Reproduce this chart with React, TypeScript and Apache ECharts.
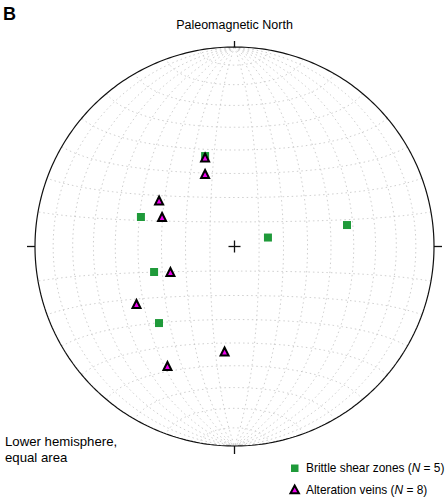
import React, { useEffect, useRef } from "react";
import * as echarts from "echarts";

// Brittle shear zones (squares): trend / plunge in degrees
const shearTrend = [342.0, 287.5, 75.0, 79.2, 252.4, 224.6];
const shearPlunge = [50.6, 49.3, 75.9, 42.1, 55.2, 45.2];
// Alteration veins (triangles): trend / plunge in degrees
const veinTrend = [341.7, 337.9, 301.4, 292.2, 248.3, 239.6, 185.4, 209.3];
const veinPlunge = [51.2, 57.8, 53.5, 57.8, 61.7, 42.5, 46.1, 31.9];

const legendLabels = ["Brittle shear zones", "Alteration veins"];
const legendCounts = [5, 8];

const netStep = 10; // degrees between net lines

const R = 199.5;
const CX = 234.5;
const CY = 246.5;
const EXT = 1.05;
const FONT = "'Liberation Sans', Arial, Helvetica, sans-serif";
const deg = Math.PI / 180;

function projectLine(trend: number, plunge: number): [number, number] {
  const r = Math.SQRT2 * Math.sin(((90 - plunge) / 2) * deg);
  return [r * Math.sin(trend * deg), r * Math.cos(trend * deg)];
}
function projVec(e: number, n: number, d: number): [number, number] {
  const k = 1 / Math.sqrt(1 + d);
  return [e * k, n * k];
}

function buildNet() {
  const curves: [number, number][][] = [];
  const N = 120;
  // meridians (great circles through N-S axis)
  for (let dip = netStep; dip < 90; dip += netStep) {
    for (const s of [1, -1]) {
      const pts: [number, number][] = [];
      for (let i = 0; i <= N; i++) {
        const t = (Math.PI * i) / N;
        const e = s * Math.sin(t) * Math.cos(dip * deg);
        const n = Math.cos(t);
        const d = Math.sin(t) * Math.sin(dip * deg);
        pts.push(projVec(e, n, d));
      }
      curves.push(pts);
    }
  }
  // parallels (small circles around N-S axis), equator omitted
  for (let a = netStep; a < 180; a += netStep) {
    if (a === 90) continue;
    const pts: [number, number][] = [];
    for (let i = 0; i <= N; i++) {
      const p = (Math.PI * i) / N;
      const e = Math.sin(a * deg) * Math.cos(p);
      const n = Math.cos(a * deg);
      const d = Math.sin(a * deg) * Math.sin(p);
      pts.push(projVec(e, n, d));
    }
    curves.push(pts);
  }
  return curves;
}

export default function App() {
  const ref = useRef<HTMLDivElement>(null);
  useEffect(() => {
    if (!ref.current) return;
    const chart = echarts.init(ref.current, null, { renderer: "svg" });

    const net = buildNet();
    const netSeries = net.map((pts) => ({
      type: "line",
      data: pts,
      showSymbol: false,
      silent: true,
      clip: false,
      z: 1,
      lineStyle: { color: "#c2c2c2", width: 0.8, type: [1.5, 3] },
    }));

    const prim: [number, number][] = [];
    for (let i = 0; i <= 360; i++) prim.push([Math.cos(i * deg), Math.sin(i * deg)]);

    const tk = 8 / R;
    const tickSegs: [number, number][][] = [
      [[0, 1], [0, 1 + 6 / R]],
      [[0, -1], [0, -1 - tk]],
      [[1, 0], [1 + tk, 0]],
      [[-1, 0], [-1 - tk, 0]],
      [[-6 / R, 0], [6 / R, 0]],
      [[0, -6 / R], [0, 6 / R]],
    ];
    const blackSeries = [prim, ...tickSegs].map((pts, i) => ({
      type: "line",
      data: pts,
      showSymbol: false,
      silent: true,
      clip: false,
      z: 2,
      lineStyle: { color: "#111", width: i === 0 ? 1.2 : 1.3 },
    }));

    const shearData = shearTrend.map((t, i) => projectLine(t, shearPlunge[i]));
    const veinData = veinTrend.map((t, i) => projectLine(t, veinPlunge[i]));

    const size = 2 * EXT * R;
    chart.setOption({
      animation: false,
      grid: {
        left: CX - EXT * R,
        top: CY - EXT * R,
        width: size,
        height: size,
        outerBoundsMode: "none",
        containLabel: false,
      },
      xAxis: { type: "value", min: -EXT, max: EXT, show: false },
      yAxis: { type: "value", min: -EXT, max: EXT, show: false },
      series: [
        ...netSeries,
        ...blackSeries,
        {
          name: legendLabels[0],
          type: "scatter",
          data: shearData,
          symbol: "rect",
          symbolSize: 8,
          z: 5,
          itemStyle: { color: "#1f9a3a", opacity: 1 },
        },
        {
          name: legendLabels[1],
          type: "scatter",
          data: veinData,
          symbol: "triangle",
          symbolSize: 8,
          z: 6,
          itemStyle: { color: "#ee00ee", borderColor: "#000", borderWidth: 2, opacity: 1 },
        },
      ],
      graphic: [
        {
          type: "text",
          x: 3,
          y: 13.5,
          style: { text: "B", font: `bold 18px ${FONT}`, fill: "#000", verticalAlign: "middle" },
        },
        {
          type: "text",
          x: CX,
          y: 25,
          style: {
            text: "Paleomagnetic North",
            font: `12.5px ${FONT}`,
            fill: "#000",
            align: "center",
            verticalAlign: "middle",
          },
        },
        {
          type: "text",
          x: 5,
          y: 441.5,
          style: { text: "Lower hemisphere,", font: `13.2px ${FONT}`, fill: "#000", verticalAlign: "middle" },
        },
        {
          type: "text",
          x: 5,
          y: 457.5,
          style: { text: "equal area", font: `13.2px ${FONT}`, fill: "#000", verticalAlign: "middle" },
        },
        {
          type: "rect",
          shape: { x: 291, y: 464.5, width: 7.5, height: 7.5 },
          style: { fill: "#1f9a3a" },
        },
        {
          type: "polygon",
          shape: { points: [[294.7, 485.5], [290.5, 493.2], [298.9, 493.2]] },
          style: { fill: "#ee00ee", stroke: "#000", lineWidth: 2 },
        },
        {
          type: "text",
          x: 306,
          y: 468,
          style: {
            text: `${legendLabels[0]} ({i|N} = ${legendCounts[0]})`,
            font: `11.9px ${FONT}`,
            fill: "#000",
            verticalAlign: "middle",
            rich: { i: { fontStyle: "italic", fontSize: 11.9, fontFamily: FONT } },
          },
        },
        {
          type: "text",
          x: 306,
          y: 490,
          style: {
            text: `${legendLabels[1]} ({i|N} = ${legendCounts[1]})`,
            font: `11.9px ${FONT}`,
            fill: "#000",
            verticalAlign: "middle",
            rich: { i: { fontStyle: "italic", fontSize: 11.9, fontFamily: FONT } },
          },
        },
      ],
    });
    return () => chart.dispose();
  }, []);
  return (
    <div
      ref={ref}
      style={{ position: "fixed", left: 0, top: 0, width: 447, height: 498, background: "#fff" }}
    />
  );
}
